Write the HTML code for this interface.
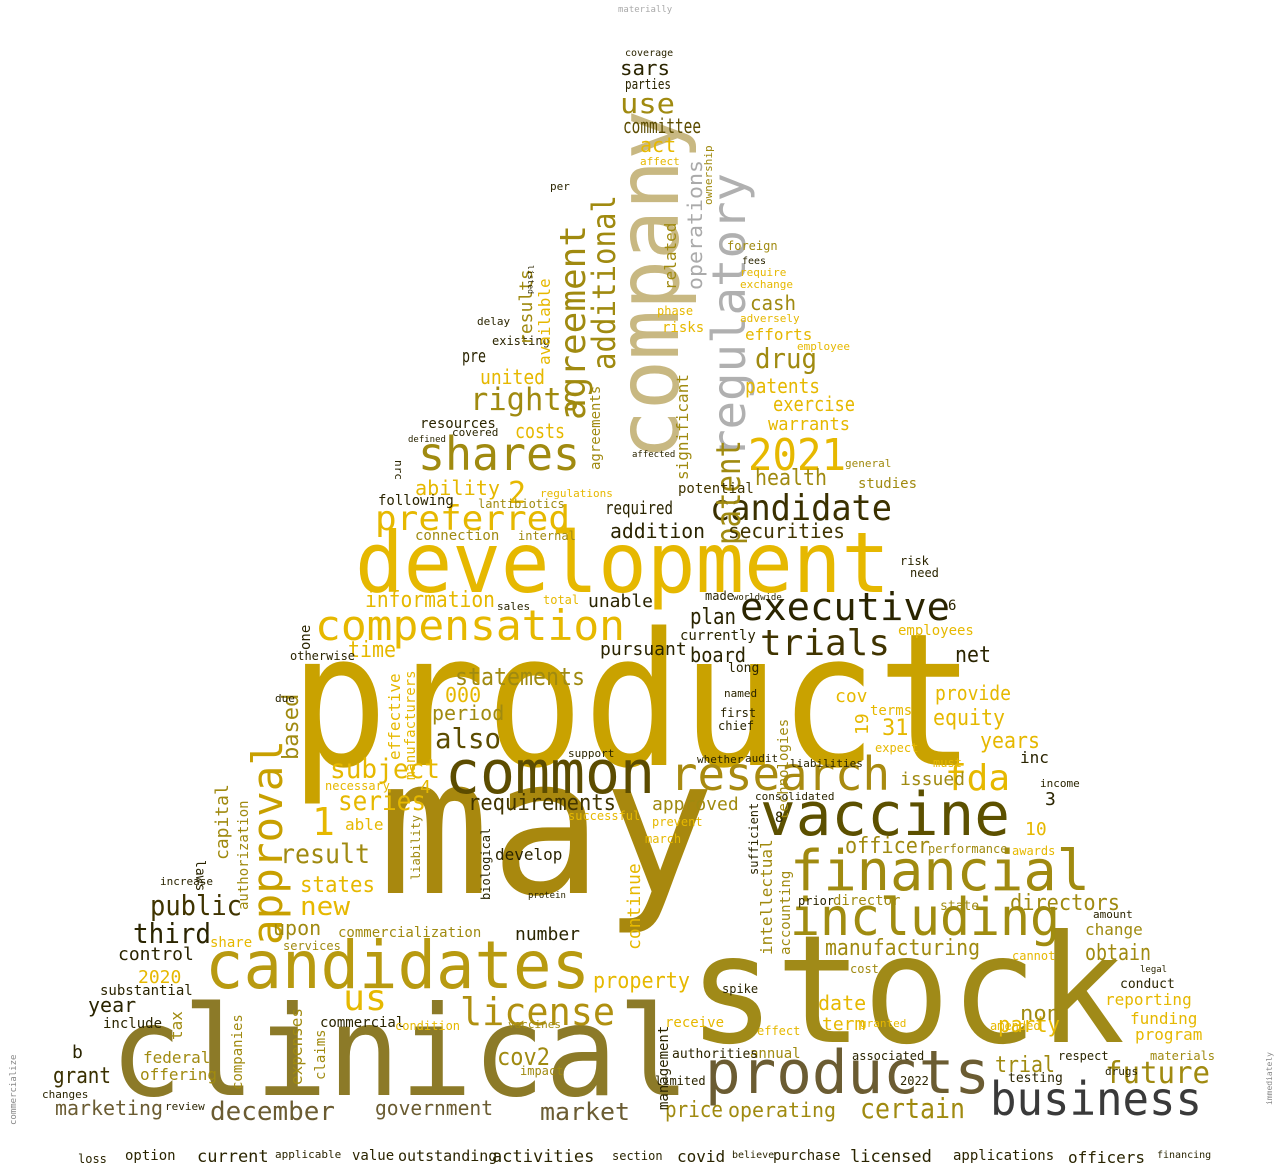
<!DOCTYPE html>
<html><head><meta charset="utf-8"><style>
html,body{margin:0;padding:0;background:#fff;width:1280px;height:1168px;overflow:hidden}
svg text{font-family:"DejaVu Sans Mono","Liberation Mono",monospace}
</style></head><body>
<svg width="1280" height="1168" viewBox="0 0 1280 1168" xmlns="http://www.w3.org/2000/svg">
<g>
<text x="618" y="12" font-size="9" fill="#aaa">materially</text>
<text x="290" y="765" font-size="185" fill="#c9a200" textLength="685" lengthAdjust="spacingAndGlyphs">product</text>
<text x="378" y="893" font-size="190" fill="#a8880e" textLength="337" lengthAdjust="spacingAndGlyphs">may</text>
<text x="688" y="1042" font-size="150" fill="#a08a18" textLength="437" lengthAdjust="spacingAndGlyphs">stock</text>
<text x="110" y="1095" font-size="125" fill="#8c7a28" textLength="580" lengthAdjust="spacingAndGlyphs">clinical</text>
<text x="355" y="592" font-size="84" fill="#e6b800" textLength="535" lengthAdjust="spacingAndGlyphs">development</text>
<text transform="translate(678,460) rotate(-90)" font-size="86" fill="#c8b882" textLength="350" lengthAdjust="spacingAndGlyphs">company</text>
<text x="205" y="988" font-size="66" fill="#b89a10" textLength="385" lengthAdjust="spacingAndGlyphs">candidates</text>
<text x="445" y="793" font-size="60" fill="#5c4c00" textLength="210" lengthAdjust="spacingAndGlyphs">common</text>
<text x="760" y="835" font-size="60" fill="#5c5000" textLength="250" lengthAdjust="spacingAndGlyphs">vaccine</text>
<text x="790" y="890" font-size="56" fill="#a08a10" textLength="300" lengthAdjust="spacingAndGlyphs">financial</text>
<text x="790" y="935" font-size="52" fill="#a08c10" textLength="270" lengthAdjust="spacingAndGlyphs">including</text>
<text x="705" y="1093" font-size="60" fill="#6b5c32" textLength="285" lengthAdjust="spacingAndGlyphs">products</text>
<text x="990" y="1115" font-size="46" fill="#3a3a3a" textLength="212" lengthAdjust="spacingAndGlyphs">business</text>
<text x="670" y="790" font-size="46" fill="#a88a10" textLength="220" lengthAdjust="spacingAndGlyphs">research</text>
<text x="418" y="470" font-size="46" fill="#a08a10" textLength="162" lengthAdjust="spacingAndGlyphs">shares</text>
<text x="710" y="520" font-size="36" fill="#3a3000" textLength="182" lengthAdjust="spacingAndGlyphs">candidate</text>
<text x="740" y="620" font-size="38" fill="#2a2400" textLength="210" lengthAdjust="spacingAndGlyphs">executive</text>
<text x="315" y="640" font-size="42" fill="#e6b800" textLength="310" lengthAdjust="spacingAndGlyphs">compensation</text>
<text x="460" y="1025" font-size="38" fill="#b09010" textLength="155" lengthAdjust="spacingAndGlyphs">license</text>
<text x="760" y="655" font-size="36" fill="#403400" textLength="130" lengthAdjust="spacingAndGlyphs">trials</text>
<text x="748" y="470" font-size="44" fill="#e6b800" textLength="98" lengthAdjust="spacingAndGlyphs">2021</text>
<text x="945" y="790" font-size="36" fill="#e6b800" textLength="65" lengthAdjust="spacingAndGlyphs">fda</text>
<text transform="translate(282,945) rotate(-90)" font-size="42" fill="#c8a000" textLength="205" lengthAdjust="spacingAndGlyphs">approval</text>
<text transform="translate(745,458) rotate(-90)" font-size="46" fill="#b0b0b0" textLength="285" lengthAdjust="spacingAndGlyphs">regulatory</text>
<text transform="translate(615,370) rotate(-90)" font-size="32" fill="#a08a10" textLength="175" lengthAdjust="spacingAndGlyphs">additional</text>
<text transform="translate(585,420) rotate(-90)" font-size="36" fill="#a08a10" textLength="195" lengthAdjust="spacingAndGlyphs">agreement</text>
<text transform="translate(702,290) rotate(-90)" font-size="20" fill="#aaa" textLength="130" lengthAdjust="spacingAndGlyphs">operations</text>
<text transform="translate(740,545) rotate(-90)" font-size="34" fill="#a08a10" textLength="105" lengthAdjust="spacingAndGlyphs">patent</text>
<text x="470" y="410" font-size="31" fill="#a08a10" textLength="110" lengthAdjust="spacingAndGlyphs">rights</text>
<text x="375" y="530" font-size="34" fill="#e6b800" textLength="195" lengthAdjust="spacingAndGlyphs">preferred</text>
<text x="1105" y="1083" font-size="30" fill="#a08a10" textLength="105" lengthAdjust="spacingAndGlyphs">future</text>
<text x="860" y="1118" font-size="28" fill="#a08a10" textLength="105" lengthAdjust="spacingAndGlyphs">certain</text>
<text x="540" y="1120" font-size="24" fill="#6b5c32" textLength="90" lengthAdjust="spacingAndGlyphs">market</text>
<text x="210" y="1120" font-size="26" fill="#6b5c32" textLength="125" lengthAdjust="spacingAndGlyphs">december</text>
<text x="375" y="1115" font-size="20" fill="#6b5c32" textLength="118" lengthAdjust="spacingAndGlyphs">government</text>
<text x="55" y="1115" font-size="20" fill="#6b5c32" textLength="108" lengthAdjust="spacingAndGlyphs">marketing</text>
<text x="53" y="1083" font-size="22" fill="#3a3000" textLength="58" lengthAdjust="spacingAndGlyphs">grant</text>
<text x="343" y="1010" font-size="36" fill="#e6b800" textLength="44" lengthAdjust="spacingAndGlyphs">us</text>
<text x="133" y="943" font-size="28" fill="#2a2400" textLength="78" lengthAdjust="spacingAndGlyphs">third</text>
<text x="150" y="915" font-size="28" fill="#403400" textLength="92" lengthAdjust="spacingAndGlyphs">public</text>
<text x="300" y="915" font-size="26" fill="#e6b800" textLength="50" lengthAdjust="spacingAndGlyphs">new</text>
<text x="280" y="863" font-size="27" fill="#a08a10" textLength="90" lengthAdjust="spacingAndGlyphs">result</text>
<text x="300" y="892" font-size="22" fill="#e6b800" textLength="75" lengthAdjust="spacingAndGlyphs">states</text>
<text x="330" y="778" font-size="27" fill="#e6b800" textLength="110" lengthAdjust="spacingAndGlyphs">subject</text>
<text x="338" y="810" font-size="27" fill="#e6b800" textLength="88" lengthAdjust="spacingAndGlyphs">series</text>
<text x="435" y="748" font-size="28" fill="#5c4c00" textLength="66" lengthAdjust="spacingAndGlyphs">also</text>
<text x="468" y="810" font-size="22" fill="#403400" textLength="148" lengthAdjust="spacingAndGlyphs">requirements</text>
<text x="455" y="685" font-size="24" fill="#a08a10" textLength="130" lengthAdjust="spacingAndGlyphs">statements</text>
<text x="365" y="607" font-size="22" fill="#e6b800" textLength="130" lengthAdjust="spacingAndGlyphs">information</text>
<text x="348" y="657" font-size="22" fill="#e6b800" textLength="48" lengthAdjust="spacingAndGlyphs">time</text>
<text x="825" y="955" font-size="22" fill="#a08a10" textLength="155" lengthAdjust="spacingAndGlyphs">manufacturing</text>
<text x="1010" y="910" font-size="22" fill="#a08a10" textLength="110" lengthAdjust="spacingAndGlyphs">directors</text>
<text x="1085" y="960" font-size="22" fill="#a08a10" textLength="66" lengthAdjust="spacingAndGlyphs">obtain</text>
<text x="845" y="853" font-size="22" fill="#a08a10" textLength="85" lengthAdjust="spacingAndGlyphs">officer</text>
<text x="933" y="725" font-size="22" fill="#e6b800" textLength="72" lengthAdjust="spacingAndGlyphs">equity</text>
<text x="980" y="748" font-size="22" fill="#e6b800" textLength="60" lengthAdjust="spacingAndGlyphs">years</text>
<text x="935" y="700" font-size="20" fill="#e6b800" textLength="76" lengthAdjust="spacingAndGlyphs">provide</text>
<text x="955" y="662" font-size="22" fill="#2a2400" textLength="36" lengthAdjust="spacingAndGlyphs">net</text>
<text x="998" y="1032" font-size="22" fill="#e6b800" textLength="62" lengthAdjust="spacingAndGlyphs">party</text>
<text x="1020" y="1020" font-size="20" fill="#a08a10" textLength="40" lengthAdjust="spacingAndGlyphs">non</text>
<text x="995" y="1072" font-size="22" fill="#a08a10" textLength="60" lengthAdjust="spacingAndGlyphs">trial</text>
<text x="593" y="988" font-size="22" fill="#e6b800" textLength="97" lengthAdjust="spacingAndGlyphs">property</text>
<text x="665" y="1117" font-size="22" fill="#a08a10" textLength="58" lengthAdjust="spacingAndGlyphs">price</text>
<text x="728" y="1117" font-size="20" fill="#a08a10" textLength="108" lengthAdjust="spacingAndGlyphs">operating</text>
<text x="497" y="1065" font-size="24" fill="#a08a10" textLength="53" lengthAdjust="spacingAndGlyphs">cov2</text>
<text x="620" y="113" font-size="28" fill="#a08a10" textLength="55" lengthAdjust="spacingAndGlyphs">use</text>
<text x="623" y="133" font-size="20" fill="#5c4c00" textLength="78" lengthAdjust="spacingAndGlyphs">committee</text>
<text x="620" y="75" font-size="20" fill="#2a2400" textLength="50" lengthAdjust="spacingAndGlyphs">sars</text>
<text x="625" y="89" font-size="14" fill="#2a2400" textLength="46" lengthAdjust="spacingAndGlyphs">parties</text>
<text x="625" y="56" font-size="10" fill="#2a2400">coverage</text>
<text x="755" y="368" font-size="28" fill="#a08a10" textLength="62" lengthAdjust="spacingAndGlyphs">drug</text>
<text x="755" y="485" font-size="22" fill="#a08a10" textLength="72" lengthAdjust="spacingAndGlyphs">health</text>
<text x="745" y="393" font-size="20" fill="#e6b800" textLength="75" lengthAdjust="spacingAndGlyphs">patents</text>
<text x="773" y="411" font-size="20" fill="#e6b800" textLength="82" lengthAdjust="spacingAndGlyphs">exercise</text>
<text x="768" y="430" font-size="18" fill="#e6b800" textLength="82" lengthAdjust="spacingAndGlyphs">warrants</text>
<text x="750" y="310" font-size="20" fill="#a08a10" textLength="46" lengthAdjust="spacingAndGlyphs">cash</text>
<text x="745" y="340" font-size="16" fill="#e6b800">efforts</text>
<text x="415" y="495" font-size="20" fill="#e6b800" textLength="85" lengthAdjust="spacingAndGlyphs">ability</text>
<text x="515" y="438" font-size="20" fill="#e6b800" textLength="50" lengthAdjust="spacingAndGlyphs">costs</text>
<text x="480" y="384" font-size="20" fill="#e6b800" textLength="65" lengthAdjust="spacingAndGlyphs">united</text>
<text x="462" y="362" font-size="18" fill="#2a2400" textLength="24" lengthAdjust="spacingAndGlyphs">pre</text>
<text x="420" y="428" font-size="14" fill="#2a2400">resources</text>
<text x="690" y="662" font-size="20" fill="#2a2400" textLength="56" lengthAdjust="spacingAndGlyphs">board</text>
<text x="690" y="624" font-size="22" fill="#2a2400" textLength="46" lengthAdjust="spacingAndGlyphs">plan</text>
<text x="680" y="640" font-size="14" fill="#2a2400">currently</text>
<text x="610" y="538" font-size="20" fill="#2a2400" textLength="95" lengthAdjust="spacingAndGlyphs">addition</text>
<text x="728" y="538" font-size="20" fill="#403400" textLength="117" lengthAdjust="spacingAndGlyphs">securities</text>
<text x="605" y="514" font-size="18" fill="#2a2400" textLength="68" lengthAdjust="spacingAndGlyphs">required</text>
<text x="678" y="493" font-size="14" fill="#403400">potential</text>
<text x="640" y="152" font-size="20" fill="#e6b800">act</text>
<text x="600" y="655" font-size="18" fill="#2a2400">pursuant</text>
<text x="588" y="607" font-size="18" fill="#2a2400">unable</text>
<text x="515" y="940" font-size="18" fill="#2a2400">number</text>
<text x="495" y="860" font-size="16" fill="#2a2400">develop</text>
<text x="652" y="810" font-size="18" fill="#a08a10">approved</text>
<text x="900" y="785" font-size="18" fill="#a08a10">issued</text>
<text x="118" y="960" font-size="18" fill="#2a2400">control</text>
<text x="88" y="1012" font-size="20" fill="#2a2400">year</text>
<text x="138" y="983" font-size="18" fill="#e6b800">2020</text>
<text x="100" y="995" font-size="14" fill="#2a2400">substantial</text>
<text x="103" y="1028" font-size="14" fill="#2a2400">include</text>
<text x="72" y="1058" font-size="18" fill="#2a2400">b</text>
<text x="143" y="1063" font-size="16" fill="#a08a10">federal</text>
<text x="140" y="1080" font-size="16" fill="#a08a10">offering</text>
<text x="750" y="1058" font-size="14" fill="#a08a10">annual</text>
<text x="672" y="1058" font-size="13" fill="#2a2400">authorities</text>
<text x="822" y="1030" font-size="18" fill="#e6b800">term</text>
<text x="818" y="1010" font-size="20" fill="#e6b800">date</text>
<text x="1105" y="1005" font-size="16" fill="#e6b800">reporting</text>
<text x="1130" y="1024" font-size="16" fill="#e6b800">funding</text>
<text x="1135" y="1040" font-size="16" fill="#e6b800">program</text>
<text x="1085" y="935" font-size="16" fill="#a08a10">change</text>
<text x="1120" y="988" font-size="13" fill="#2a2400">conduct</text>
<text x="1025" y="835" font-size="18" fill="#e6b800">10</text>
<text x="1020" y="763" font-size="16" fill="#2a2400">inc</text>
<text x="882" y="735" font-size="22" fill="#e6b800">31</text>
<text x="445" y="702" font-size="20" fill="#e6b800">000</text>
<text x="432" y="720" font-size="20" fill="#a08a10">period</text>
<text x="312" y="835" font-size="38" fill="#e6b800">1</text>
<text x="420" y="793" font-size="18" fill="#e6b800">4</text>
<text x="508" y="503" font-size="30" fill="#e6b800">2</text>
<text x="1045" y="805" font-size="18" fill="#2a2400">3</text>
<text transform="translate(310,650) rotate(-90)" font-size="14" fill="#2a2400">one</text>
<text x="273" y="935" font-size="20" fill="#a08a10">upon</text>
<text x="378" y="505" font-size="14" fill="#2a2400">following</text>
<text x="492" y="345" font-size="12" fill="#2a2400">existing</text>
<text x="477" y="325" font-size="11" fill="#2a2400">delay</text>
<text x="727" y="250" font-size="12" fill="#a08a10">foreign</text>
<text x="742" y="264" font-size="10" fill="#2a2400">fees</text>
<text x="662" y="332" font-size="14" fill="#e6b800">risks</text>
<text x="657" y="315" font-size="12" fill="#e6b800">phase</text>
<text x="415" y="540" font-size="14" fill="#a08a10">connection</text>
<text x="478" y="508" font-size="12" fill="#a08a10">lantibiotics</text>
<text x="898" y="635" font-size="14" fill="#e6b800">employees</text>
<text x="858" y="488" font-size="14" fill="#a08a10">studies</text>
<text x="338" y="937" font-size="14" fill="#a08a10">commercialization</text>
<text x="320" y="1027" font-size="14" fill="#2a2400">commercial</text>
<text x="283" y="950" font-size="12" fill="#a08a10">services</text>
<text x="210" y="947" font-size="14" fill="#e6b800">share</text>
<text x="665" y="1027" font-size="14" fill="#e6b800">receive</text>
<text x="852" y="1060" font-size="12" fill="#2a2400">associated</text>
<text x="1150" y="1060" font-size="12" fill="#a08a10">materials</text>
<text x="655" y="1085" font-size="12" fill="#2a2400">limited</text>
<text x="900" y="1085" font-size="12" fill="#2a2400">2022</text>
<text x="125" y="1160" font-size="14" fill="#2a2400">option</text>
<text x="197" y="1162" font-size="17" fill="#2a2400">current</text>
<text x="78" y="1163" font-size="12" fill="#2a2400">loss</text>
<text x="275" y="1158" font-size="11" fill="#2a2400">applicable</text>
<text x="352" y="1160" font-size="14" fill="#2a2400">value</text>
<text x="398" y="1161" font-size="15" fill="#2a2400">outstanding</text>
<text x="492" y="1162" font-size="17" fill="#2a2400">activities</text>
<text x="612" y="1160" font-size="12" fill="#2a2400">section</text>
<text x="677" y="1162" font-size="16" fill="#2a2400">covid</text>
<text x="732" y="1158" font-size="10" fill="#2a2400">believe</text>
<text x="773" y="1160" font-size="14" fill="#2a2400">purchase</text>
<text x="850" y="1162" font-size="17" fill="#2a2400">licensed</text>
<text x="953" y="1160" font-size="14" fill="#2a2400">applications</text>
<text x="1068" y="1163" font-size="16" fill="#2a2400">officers</text>
<text x="1157" y="1158" font-size="10" fill="#2a2400">financing</text>
<text transform="translate(16,1125) rotate(-90)" font-size="9" fill="#888">commercialize</text>
<text transform="translate(1272,1105) rotate(-90)" font-size="8" fill="#888">immediately</text>
<text transform="translate(788,820) rotate(-90)" font-size="14" fill="#a08a10">technologies</text>
<text transform="translate(772,955) rotate(-90)" font-size="16" fill="#a08a10">intellectual</text>
<text transform="translate(790,955) rotate(-90)" font-size="14" fill="#a08a10">accounting</text>
<text transform="translate(676,290) rotate(-90)" font-size="16" fill="#a08a10">related</text>
<text transform="translate(688,480) rotate(-90)" font-size="16" fill="#a08a10">significant</text>
<text transform="translate(532,345) rotate(-90)" font-size="18" fill="#a08a10">results</text>
<text transform="translate(550,365) rotate(-90)" font-size="16" fill="#e6b800">available</text>
<text transform="translate(298,760) rotate(-90)" font-size="22" fill="#a08a10">based</text>
<text transform="translate(228,860) rotate(-90)" font-size="18" fill="#a08a10">capital</text>
<text transform="translate(248,910) rotate(-90)" font-size="14" fill="#a08a10">authorization</text>
<text transform="translate(182,1040) rotate(-90)" font-size="16" fill="#a08a10">tax</text>
<text transform="translate(242,1090) rotate(-90)" font-size="14" fill="#a08a10">companies</text>
<text transform="translate(302,1085) rotate(-90)" font-size="16" fill="#a08a10">expenses</text>
<text transform="translate(325,1080) rotate(-90)" font-size="14" fill="#a08a10">claims</text>
<text transform="translate(640,950) rotate(-90)" font-size="18" fill="#e6b800">continue</text>
<text transform="translate(668,1110) rotate(-90)" font-size="14" fill="#2a2400">management</text>
<text transform="translate(868,735) rotate(-90)" font-size="18" fill="#e6b800">19</text>
<text x="835" y="702" font-size="18" fill="#e6b800">cov</text>
<text x="870" y="715" font-size="14" fill="#e6b800">terms</text>
<text transform="translate(400,760) rotate(-90)" font-size="16" fill="#e6b800">effective</text>
<text transform="translate(415,780) rotate(-90)" font-size="14" fill="#e6b800">manufacturers</text>
<text x="395" y="470" font-size="11" fill="#2a2400" transform="rotate(90 400 465)">nrc</text>
<text transform="translate(600,470) rotate(-90)" font-size="14" fill="#a08a10">agreements</text>
<text transform="translate(712,205) rotate(-90)" font-size="11" fill="#a08a10">ownership</text>
<text x="640" y="165" font-size="11" fill="#e6b800">affect</text>
<text transform="translate(528,265) rotate(90)" font-size="8" fill="#2a2400">listed</text>
<text x="550" y="190" font-size="11" fill="#2a2400">per</text>
<text x="497" y="610" font-size="11" fill="#2a2400">sales</text>
<text x="290" y="660" font-size="12" fill="#2a2400">otherwise</text>
<text x="275" y="702" font-size="11" fill="#2a2400">due</text>
<text x="798" y="905" font-size="12" fill="#2a2400">prior</text>
<text x="833" y="905" font-size="14" fill="#a08a10">director</text>
<text x="940" y="910" font-size="13" fill="#a08a10">state</text>
<text x="990" y="1030" font-size="12" fill="#e6b800">amended</text>
<text transform="translate(196,860) rotate(90)" font-size="13" fill="#2a2400">laws</text>
<text x="325" y="790" font-size="12" fill="#e6b800">necessary</text>
<text x="345" y="830" font-size="16" fill="#e6b800">able</text>
<text x="705" y="600" font-size="12" fill="#2a2400">made</text>
<text x="728" y="672" font-size="13" fill="#2a2400">long</text>
<text x="775" y="822" font-size="14" fill="#2a2400">8</text>
<text x="948" y="610" font-size="14" fill="#2a2400">6</text>
<text x="900" y="565" font-size="12" fill="#2a2400">risk</text>
<text x="910" y="577" font-size="12" fill="#2a2400">need</text>
<text x="845" y="467" font-size="11" fill="#a08a10">general</text>
<text x="1008" y="1082" font-size="13" fill="#2a2400">testing</text>
<text x="1040" y="787" font-size="11" fill="#2a2400">income</text>
<text x="1093" y="918" font-size="11" fill="#2a2400">amount</text>
<text transform="translate(758,875) rotate(-90)" font-size="12" fill="#2a2400">sufficient</text>
<text transform="translate(490,900) rotate(-90)" font-size="12" fill="#2a2400">biological</text>
<text transform="translate(420,880) rotate(-90)" font-size="12" fill="#a08a10">liability</text>
<text x="160" y="885" font-size="11" fill="#2a2400">increase</text>
<text x="395" y="1030" font-size="12" fill="#e6b800">condition</text>
<text x="520" y="1075" font-size="12" fill="#a08a10">impact</text>
<text x="722" y="993" font-size="12" fill="#2a2400">spike</text>
<text x="850" y="973" font-size="12" fill="#a08a10">cost</text>
<text x="757" y="1035" font-size="12" fill="#e6b800">effect</text>
<text x="1058" y="1060" font-size="12" fill="#2a2400">respect</text>
<text x="1105" y="1075" font-size="11" fill="#2a2400">drugs</text>
<text x="1140" y="972" font-size="9" fill="#2a2400">legal</text>
<text x="718" y="730" font-size="12" fill="#2a2400">chief</text>
<text x="720" y="717" font-size="12" fill="#2a2400">first</text>
<text x="724" y="697" font-size="11" fill="#2a2400">named</text>
<text x="790" y="767" font-size="11" fill="#2a2400">liabilities</text>
<text x="755" y="800" font-size="11" fill="#2a2400">consolidated</text>
<text x="745" y="762" font-size="11" fill="#2a2400">audit</text>
<text x="697" y="763" font-size="11" fill="#2a2400">whether</text>
<text x="568" y="757" font-size="11" fill="#2a2400">support</text>
<text x="528" y="898" font-size="9" fill="#2a2400">protein</text>
<text x="165" y="1110" font-size="11" fill="#2a2400">review</text>
<text x="42" y="1098" font-size="11" fill="#2a2400">changes</text>
<text x="508" y="1028" font-size="11" fill="#a08a10">vaccines</text>
<text x="645" y="843" font-size="12" fill="#e6b800">march</text>
<text x="652" y="826" font-size="12" fill="#e6b800">prevent</text>
<text x="568" y="820" font-size="12" fill="#e6b800">successful</text>
<text x="543" y="604" font-size="12" fill="#e6b800">total</text>
<text x="797" y="350" font-size="11" fill="#e6b800">employee</text>
<text x="740" y="322" font-size="11" fill="#e6b800">adversely</text>
<text x="740" y="288" font-size="11" fill="#e6b800">exchange</text>
<text x="740" y="276" font-size="11" fill="#e6b800">require</text>
<text x="518" y="540" font-size="12" fill="#a08a10">internal</text>
<text x="540" y="497" font-size="11" fill="#e6b800">regulations</text>
<text x="928" y="853" font-size="12" fill="#a08a10">performance</text>
<text x="1012" y="855" font-size="12" fill="#e6b800">awards</text>
<text x="1012" y="960" font-size="12" fill="#e6b800">cannot</text>
<text x="875" y="752" font-size="12" fill="#e6b800">expect</text>
<text x="933" y="767" font-size="12" fill="#e6b800">must</text>
<text x="452" y="436" font-size="11" fill="#2a2400">covered</text>
<text x="408" y="442" font-size="9" fill="#2a2400">defined</text>
<text x="632" y="457" font-size="9" fill="#2a2400">affected</text>
<text x="733" y="600" font-size="9" fill="#2a2400">worldwide</text>
<text x="860" y="1027" font-size="11" fill="#e6b800">granted</text>
</g>
</svg>
</body></html>
